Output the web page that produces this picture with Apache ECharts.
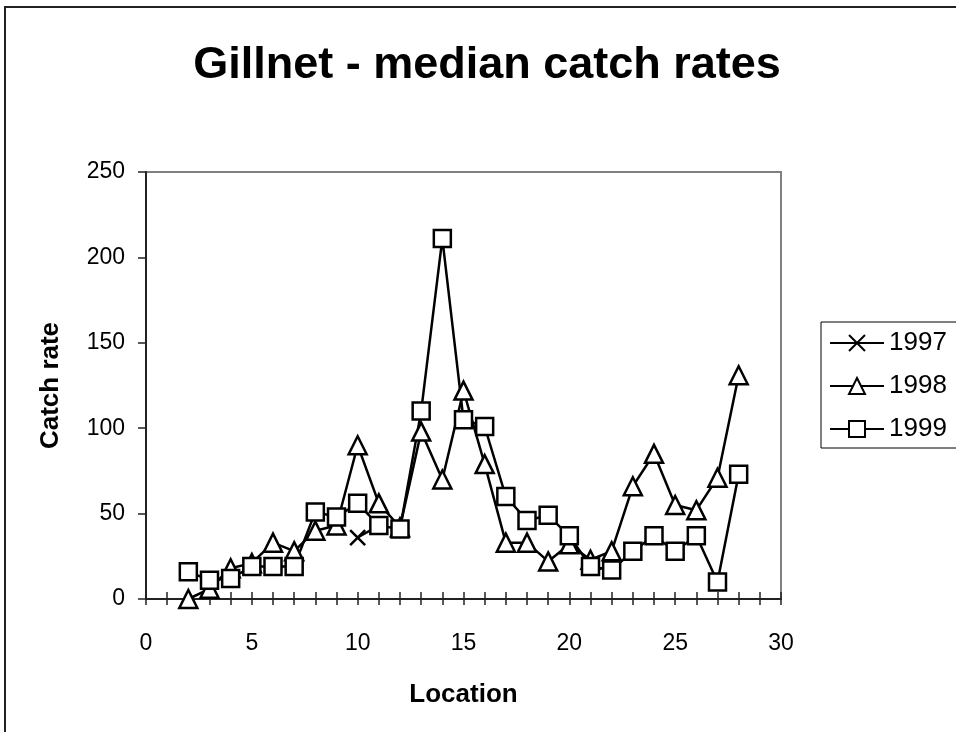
<!DOCTYPE html>
<html>
<head>
<meta charset="utf-8">
<script src="https://cdn.jsdelivr.net/npm/echarts@6/dist/echarts.min.js"></script>
<style>
  html, body { margin: 0; padding: 0; background: #fff; }
  #chart { width: 956px; height: 732px; }
</style>
</head>
<body>
<div id="chart"></div>
<script>
// Gillnet median catch rates by location
const locations = [2, 3, 4, 5, 6, 7, 8, 9, 10, 11, 12, 13, 14, 15, 16, 17, 18, 19, 20, 21, 22, 23, 24, 25, 26, 27, 28];
const rate1998 = [0, 6, 18, 21, 33, 28, 40, 43, 90, 56, 42, 98, 70, 122, 79, 33, 33, 22, 32, 23, 28, 66, 85, 55, 52, 71, 131];
const rate1999 = [16, 11, 12, 19, 19, 19, 51, 48, 56, 43, 41, 110, 211, 105, 101, 60, 46, 49, 37, 19, 17, 28, 37, 28, 37, 10, 73];
const loc1997 = [10, 11];
const rate1997 = [36, 43];
const yTicks = [0, 50, 100, 150, 200, 250];

const FONT = '"Liberation Sans", Arial, sans-serif';
const INK = '#000000';
const CROSS = 'path://M0,0L10,10M10,0L0,10';

const pairs = (xs, ys) => xs.map((x, i) => [x, ys[i]]);

function lineSeries(name, data, symbol, size) {
  return {
    name,
    type: 'line',
    data,
    symbol,
    symbolSize: size,
    showAllSymbol: true,
    lineStyle: { color: INK, width: 2.5 },
    itemStyle: { color: '#ffffff', borderColor: INK, borderWidth: 2.5 },
    emphasis: { disabled: true },
    animation: false,
  };
}

const chart = echarts.init(document.getElementById('chart'), null, { renderer: 'canvas' });

chart.setOption({
  animation: false,
  textStyle: { fontFamily: FONT, color: INK },
  title: {
    text: 'Gillnet - median catch rates',
    left: 482,
    textAlign: 'center',
    top: 38,
    textStyle: { fontFamily: FONT, fontSize: 45, fontWeight: 'bold', color: INK },
  },
  graphic: [{
    type: 'rect',
    shape: { x: 5, y: 7, width: 2000, height: 2000 },
    style: { fill: 'none', stroke: '#222', lineWidth: 2 },
    silent: true,
  }],
  grid: {
    left: 146, top: 172, right: 175, bottom: 133,
    show: true, borderColor: '#808080', borderWidth: 2, backgroundColor: 'transparent',
  },
  legend: {
    orient: 'vertical',
    left: 821,
    top: 322,
    padding: [8, 40, 6, 8],
    itemGap: 17,
    itemWidth: 54,
    itemHeight: 20,
    borderColor: INK,
    borderWidth: 1,
    textStyle: { fontFamily: FONT, fontSize: 26, color: INK, padding: [0, 0, 0, 0] },
    data: ['1997', '1998', '1999'],
  },
  xAxis: [{
    type: 'value',
    min: 0, max: 30, interval: 5,
    name: 'Location',
    nameLocation: 'middle',
    nameGap: 83,
    nameTextStyle: { fontFamily: FONT, fontSize: 26, fontWeight: 'bold', color: INK },
    axisLine: { onZero: false, lineStyle: { color: '#222', width: 2 } },
    axisTick: { show: true, length: 6, lineStyle: { color: '#222', width: 1.5 } },
    minorTick: { show: true, splitNumber: 5, length: 6, lineStyle: { color: '#222', width: 1.5 } },
    axisLabel: { margin: 33, fontFamily: FONT, fontSize: 23, color: INK },
    splitLine: { show: false },
  }, {
    type: 'value',
    min: 0, max: 30, interval: 5,
    position: 'bottom',
    axisLine: { show: false },
    axisTick: { show: true, inside: true, length: 7, lineStyle: { color: '#222', width: 1.5 } },
    minorTick: { show: true, splitNumber: 5, length: 7, lineStyle: { color: '#222', width: 1.5 } },
    axisLabel: { show: false },
    splitLine: { show: false },
  }],
  yAxis: {
    type: 'value',
    min: yTicks[0], max: yTicks[yTicks.length - 1], interval: 50,
    name: 'Catch rate',
    nameLocation: 'middle',
    nameGap: 82,
    nameTextStyle: { fontFamily: FONT, fontSize: 26, fontWeight: 'bold', color: INK },
    axisLine: { show: true, lineStyle: { color: '#222', width: 2 } },
    axisTick: { show: true, length: 8, lineStyle: { color: '#222', width: 1.5 } },
    axisLabel: { margin: 21, fontFamily: FONT, fontSize: 23, color: INK },
    splitLine: { show: false },
  },
  series: [
    lineSeries('1997', pairs(loc1997, rate1997), CROSS, 15),
    lineSeries('1998', pairs(locations, rate1998), 'triangle', 18),
    lineSeries('1999', pairs(locations, rate1999), 'rect', 17),
  ],
});
</script>
</body>
</html>
